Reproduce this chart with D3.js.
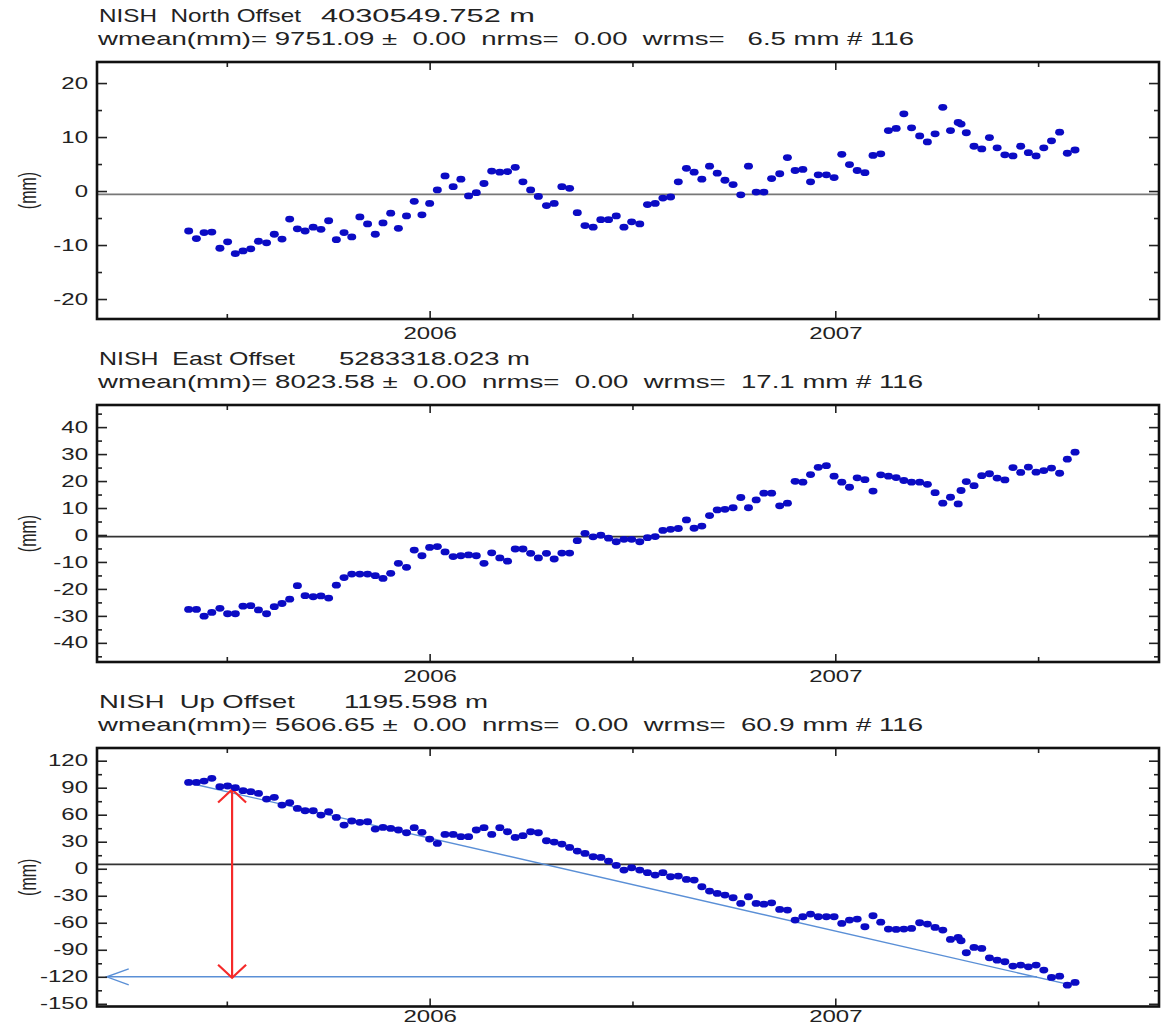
<!DOCTYPE html>
<html>
<head>
<meta charset="utf-8">
<script src="https://cdn.jsdelivr.net/npm/d3@7"></script>
<style>
  body { margin: 0; background: #fff; }
  svg text { font-family: "Liberation Sans", Arial, sans-serif; fill: #222; }
</style>
</head>
<body>
<svg id="chart" width="1162" height="1028"></svg>
<script>
// Weekly solution epochs (decimal year)
const epochs = [
  2005.406, 2005.425, 2005.444, 2005.463, 2005.483, 2005.502, 2005.521, 2005.540, 2005.559, 2005.578,
  2005.598, 2005.617, 2005.636, 2005.655, 2005.674, 2005.693, 2005.713, 2005.732, 2005.751, 2005.770,
  2005.789, 2005.808, 2005.828, 2005.847, 2005.866, 2005.885, 2005.904, 2005.923, 2005.943, 2005.962,
  2005.981, 2006.000, 2006.019, 2006.038, 2006.058, 2006.077, 2006.096, 2006.115, 2006.134, 2006.153,
  2006.173, 2006.192, 2006.211, 2006.230, 2006.249, 2006.268, 2006.288, 2006.307, 2006.326, 2006.345,
  2006.364, 2006.383, 2006.403, 2006.422, 2006.441, 2006.460, 2006.479, 2006.498, 2006.518, 2006.537,
  2006.556, 2006.575, 2006.594, 2006.613, 2006.633, 2006.652, 2006.671, 2006.690, 2006.709, 2006.728,
  2006.748, 2006.767, 2006.786, 2006.805, 2006.824, 2006.843, 2006.863, 2006.882, 2006.901, 2006.920,
  2006.939, 2006.958, 2006.978, 2006.997, 2007.016, 2007.035, 2007.054, 2007.073, 2007.093, 2007.112,
  2007.131, 2007.150, 2007.169, 2007.188, 2007.208, 2007.227, 2007.246, 2007.265, 2007.284, 2007.303,
  2007.310,
  2007.323, 2007.342, 2007.361, 2007.380, 2007.399, 2007.418, 2007.438, 2007.457, 2007.476, 2007.495,
  2007.514, 2007.533, 2007.553, 2007.572, 2007.591
];

// Offsets in mm
const northValues = [
  -7.4, -8.8, -7.7, -7.6, -10.6, -9.4, -11.6, -11.1, -10.7, -9.3,
  -9.6, -8.0, -8.9, -5.2, -7.0, -7.4, -6.7, -7.1, -5.5, -9.0,
  -7.7, -8.5, -4.8, -6.1, -8.0, -5.9, -4.1, -6.9, -4.6, -1.9,
  -4.4, -2.3, 0.2, 2.8, 0.8, 2.2, -0.9, -0.3, 1.4, 3.7,
  3.5, 3.6, 4.4, 1.7, 0.2, -1.0, -2.7, -2.3, 0.8, 0.5,
  -4.0, -6.4, -6.7, -5.3, -5.3, -4.6, -6.7, -5.7, -6.1, -2.5,
  -2.3, -1.3, -1.1, 1.7, 4.2, 3.5, 2.2, 4.6, 3.3, 2.0,
  1.2, -0.7, 4.6, -0.2, -0.2, 2.3, 3.2, 6.2, 3.8, 4.0,
  1.7, 3.0, 3.0, 2.5, 6.8, 4.9, 3.8, 3.4, 6.6, 6.9,
  11.2, 11.6, 14.3, 11.7, 10.2, 9.1, 10.6, 15.5, 11.2, 12.7,
  12.4,
  10.8, 8.3, 7.8, 9.9, 8.0, 6.7, 6.5, 8.3, 7.1, 6.5,
  8.0, 9.3, 10.9, 7.0, 7.6
];

const eastValues = [
  -27.6, -27.6, -30.1, -28.7, -27.2, -29.2, -29.2, -26.4, -26.2, -27.8,
  -29.2, -26.6, -25.4, -23.8, -18.8, -22.5, -22.9, -22.6, -23.4, -18.6,
  -15.8, -14.5, -14.5, -14.5, -15.1, -16.1, -14.2, -10.5, -12.0, -5.6,
  -7.7, -4.6, -4.3, -6.3, -8.0, -7.7, -7.4, -7.7, -10.5, -6.6,
  -8.5, -9.7, -5.2, -5.2, -6.8, -8.5, -6.8, -8.9, -6.7, -6.7,
  -2.1, 0.6, -0.7, -0.1, -1.2, -2.5, -1.6, -1.6, -2.5, -1.0,
  -0.6, 1.7, 2.1, 2.4, 5.6, 2.5, 3.3, 7.2, 9.3, 9.5,
  10.1, 13.9, 10.1, 13.0, 15.5, 15.5, 10.8, 11.8, 19.9, 19.6,
  22.4, 25.1, 25.7, 21.8, 19.6, 17.7, 21.2, 20.5, 16.3, 22.3,
  21.8, 21.3, 20.2, 19.6, 19.6, 18.8, 15.7, 11.8, 14.0, 11.5,
  16.5,
  19.8, 18.3, 22.0, 22.7, 21.1, 20.4, 25.0, 23.2, 25.2, 23.3,
  23.9, 24.8, 22.9, 28.1, 30.7
];

const upValues = [
  95.9, 95.9, 97.4, 100.4, 91.1, 91.9, 90.0, 86.7, 85.6, 83.7,
  77.4, 79.3, 70.7, 73.3, 67.0, 64.4, 64.4, 59.6, 63.3, 57.0,
  48.5, 53.0, 51.5, 52.2, 44.1, 45.9, 44.8, 43.0, 40.0, 45.6,
  40.4, 33.0, 28.1, 38.1, 38.1, 35.6, 35.6, 43.0, 45.6, 38.1,
  45.6, 41.1, 34.8, 36.7, 41.1, 40.0, 31.1, 29.6, 27.4, 23.7,
  19.6, 17.0, 13.3, 12.6, 8.5, 3.7, -1.5, 1.1, -1.5, -4.4,
  -7.0, -4.4, -8.9, -8.1, -11.9, -12.6, -20.0, -24.8, -27.4, -29.3,
  -32.2, -38.5, -31.1, -38.5, -39.3, -37.8, -45.2, -45.9, -57.0, -53.3,
  -50.4, -53.3, -53.3, -53.3, -60.7, -57.0, -55.9, -64.4, -52.2, -59.3,
  -67.0, -67.4, -67.0, -66.3, -60.0, -61.5, -65.2, -68.1, -78.5, -76.3,
  -80.0,
  -93.3, -87.4, -88.5, -98.9, -101.5, -103.3, -108.1, -107.0, -108.9, -107.0,
  -112.6, -120.7, -119.3, -129.3, -126.3
];

// Tick values
const northTicks = [-20, -10, 0, 10, 20];
const northMinor = [-15, -5, 5, 15];
const eastTicks = [-40, -30, -20, -10, 0, 10, 20, 30, 40];
const eastMinor = [-45, -35, -25, -15, -5, 5, 15, 25, 35, 45];
const upTicks = [-150, -120, -90, -60, -30, 0, 30, 60, 90, 120];
const upMinor = [-135, -105, -75, -45, -15, 15, 45, 75, 105];
const yearTicks = [2006, 2007];
const halfYearTicks = [2005.5, 2006.5, 2007.5];

// Header texts
const titleNames = ["NISH  North Offset", "NISH  East Offset", "NISH  Up Offset"];
const titleOffsets = ["4030549.752 m", "5283318.023 m", "1195.598 m"];
const statLines = [
  "wmean(mm)= 9751.09 \u00b1  0.00  nrms=  0.00  wrms=   6.5 mm # 116",
  "wmean(mm)= 8023.58 \u00b1  0.00  nrms=  0.00  wrms=  17.1 mm # 116",
  "wmean(mm)= 5606.65 \u00b1  0.00  nrms=  0.00  wrms=  60.9 mm # 116"
];

// Reference (zero) line levels, as drawn
const refLevels = [-0.6, -0.6, 4.9];

// Annotations on the Up panel
const upTrend = [[2005.404, 95.5], [2007.575, -128.5]];
const upLevel = { from: 2005.204, to: 2007.497, value: -120 };
const upSpan = { t: 2005.513, top: 88, bottom: -121 };

const svg = d3.select("#chart");
const textStretch = 1.5; // glyphs in the original are drawn wide

const left = 97, right = 1159;
const x = d3.scaleLinear().domain([2005.180, 2007.798]).range([left, right]);

const panels = [
  { top: 62, bottom: 319, domain: [-23.7, 23.9], ticks: northTicks, minor: northMinor, values: northValues,
    nameLen: 202, numX: 321, numLen: 214, statLen: 816, labelPad: 9 },
  { top: 405, bottom: 662, domain: [-47.1, 48.2], ticks: eastTicks, minor: eastMinor, values: eastValues,
    nameLen: 196, numX: 339, numLen: 191, statLen: 825, labelPad: 9 },
  { top: 748, bottom: 1006.5, domain: [-153, 134.1], ticks: upTicks, minor: upMinor, values: upValues,
    nameLen: 196, numX: 344, numLen: 144, statLen: 825, labelPad: 4 }
];

const tickFmt = d => String(d);

panels.forEach((p, k) => {
  const y = d3.scaleLinear().domain(p.domain).range([p.bottom, p.top]);
  const g = svg.append("g");

  // Header lines
  g.append("text")
    .attr("x", left + 2).attr("y", p.top - 40)
    .attr("xml:space", "preserve").style("white-space", "pre")
    .style("font-size", "18.5px")
    .attr("textLength", p.nameLen).attr("lengthAdjust", "spacingAndGlyphs")
    .text(titleNames[k]);
  g.append("text")
    .attr("x", p.numX).attr("y", p.top - 40)
    .style("font-size", "18.5px")
    .attr("textLength", p.numLen).attr("lengthAdjust", "spacingAndGlyphs")
    .text(titleOffsets[k]);
  g.append("text")
    .attr("x", left + 1).attr("y", p.top - 17)
    .attr("xml:space", "preserve").style("white-space", "pre")
    .style("font-size", "18.5px")
    .attr("textLength", p.statLen).attr("lengthAdjust", "spacingAndGlyphs")
    .text(statLines[k]);

  // Y label
  g.append("text")
    .attr("transform", `translate(28,${(p.top + p.bottom) / 2}) scale(${textStretch},1) rotate(-90)`)
    .attr("text-anchor", "middle").attr("dy", "0.35em")
    .style("font-size", "16px")
    .text("(mm)");

  // Reference line
  g.append("line")
    .attr("x1", left).attr("x2", right)
    .attr("y1", y(refLevels[k])).attr("y2", y(refLevels[k]))
    .attr("stroke", k === 0 ? "#777" : "#333").attr("stroke-width", 1.7);

  if (k === 2) {
    // Linear trend
    g.append("path")
      .datum(upTrend)
      .attr("fill", "none").attr("stroke", "#5a8fd6").attr("stroke-width", 1.4)
      .attr("d", d3.line().x(d => x(d[0])).y(d => y(d[1])));

    // Horizontal level arrow
    const ly = y(upLevel.value), lx = x(upLevel.from);
    g.append("line")
      .attr("x1", lx).attr("x2", x(upLevel.to))
      .attr("y1", ly).attr("y2", ly)
      .attr("stroke", "#5a8fd6").attr("stroke-width", 1.4);
    g.append("path")
      .attr("d", `M${lx + 22},${ly - 8}L${lx},${ly}L${lx + 22},${ly + 8}`)
      .attr("fill", "none").attr("stroke", "#5a8fd6").attr("stroke-width", 1.4);

    // Red double arrow
    const rx = x(upSpan.t), ry1 = y(upSpan.top), ry2 = y(upSpan.bottom);
    g.append("line")
      .attr("x1", rx).attr("x2", rx).attr("y1", ry1).attr("y2", ry2)
      .attr("stroke", "#f52a2a").attr("stroke-width", 2.2);
    g.append("path")
      .attr("d", `M${rx - 14},${ry1 + 13}L${rx},${ry1}L${rx + 14},${ry1 + 13}`)
      .attr("fill", "none").attr("stroke", "#f52a2a").attr("stroke-width", 2.2);
    g.append("path")
      .attr("d", `M${rx - 14},${ry2 - 13}L${rx},${ry2}L${rx + 14},${ry2 - 13}`)
      .attr("fill", "none").attr("stroke", "#f52a2a").attr("stroke-width", 2.2);
  }

  // Points
  g.append("g")
    .selectAll("ellipse")
    .data(p.values)
    .join("ellipse")
    .attr("cx", (d, i) => x(epochs[i]))
    .attr("cy", d => y(d))
    .attr("rx", 4.5).attr("ry", 3.4)
    .attr("fill", "#0b0bc4");

  // Axes (ticks point inward)
  const styleAxis = a => {
    a.select(".domain").remove();
    a.attr("color", "#222");
    a.selectAll("line").attr("stroke-width", 1.6);
  };

  g.append("g").attr("transform", `translate(${left},0)`)
    .call(d3.axisLeft(y).tickValues(p.ticks).tickSize(-10).tickPadding(6).tickFormat(tickFmt))
    .call(styleAxis)
    .call(a => a.selectAll("text")
      .attr("transform", `scale(${textStretch},1)`)
      .style("font-size", "16px").attr("fill", "#222"));
  g.append("g").attr("transform", `translate(${left},0)`)
    .call(d3.axisLeft(y).tickValues(p.minor).tickSize(-5).tickFormat(""))
    .call(styleAxis);
  g.append("g").attr("transform", `translate(${right},0)`)
    .call(d3.axisRight(y).tickValues(p.ticks).tickSize(-10).tickFormat(""))
    .call(styleAxis);
  g.append("g").attr("transform", `translate(${right},0)`)
    .call(d3.axisRight(y).tickValues(p.minor).tickSize(-5).tickFormat(""))
    .call(styleAxis);

  g.append("g").attr("transform", `translate(0,${p.bottom})`)
    .call(d3.axisBottom(x).tickValues(yearTicks).tickSize(-8).tickPadding(p.labelPad).tickFormat(tickFmt))
    .call(styleAxis)
    .call(a => a.selectAll("text")
      .attr("transform", `scale(${textStretch},1)`)
      .style("font-size", "16px").attr("fill", "#222"));
  g.append("g").attr("transform", `translate(0,${p.bottom})`)
    .call(d3.axisBottom(x).tickValues(halfYearTicks).tickSize(-5).tickFormat(""))
    .call(styleAxis);
  g.append("g").attr("transform", `translate(0,${p.top})`)
    .call(d3.axisTop(x).tickValues(yearTicks).tickSize(-8).tickFormat(""))
    .call(styleAxis);
  g.append("g").attr("transform", `translate(0,${p.top})`)
    .call(d3.axisTop(x).tickValues(halfYearTicks).tickSize(-5).tickFormat(""))
    .call(styleAxis);

  // Frame
  g.append("rect")
    .attr("x", left).attr("y", p.top)
    .attr("width", right - left).attr("height", p.bottom - p.top)
    .attr("fill", "none").attr("stroke", "#111").attr("stroke-width", 2.6);
});
</script>
</body>
</html>
